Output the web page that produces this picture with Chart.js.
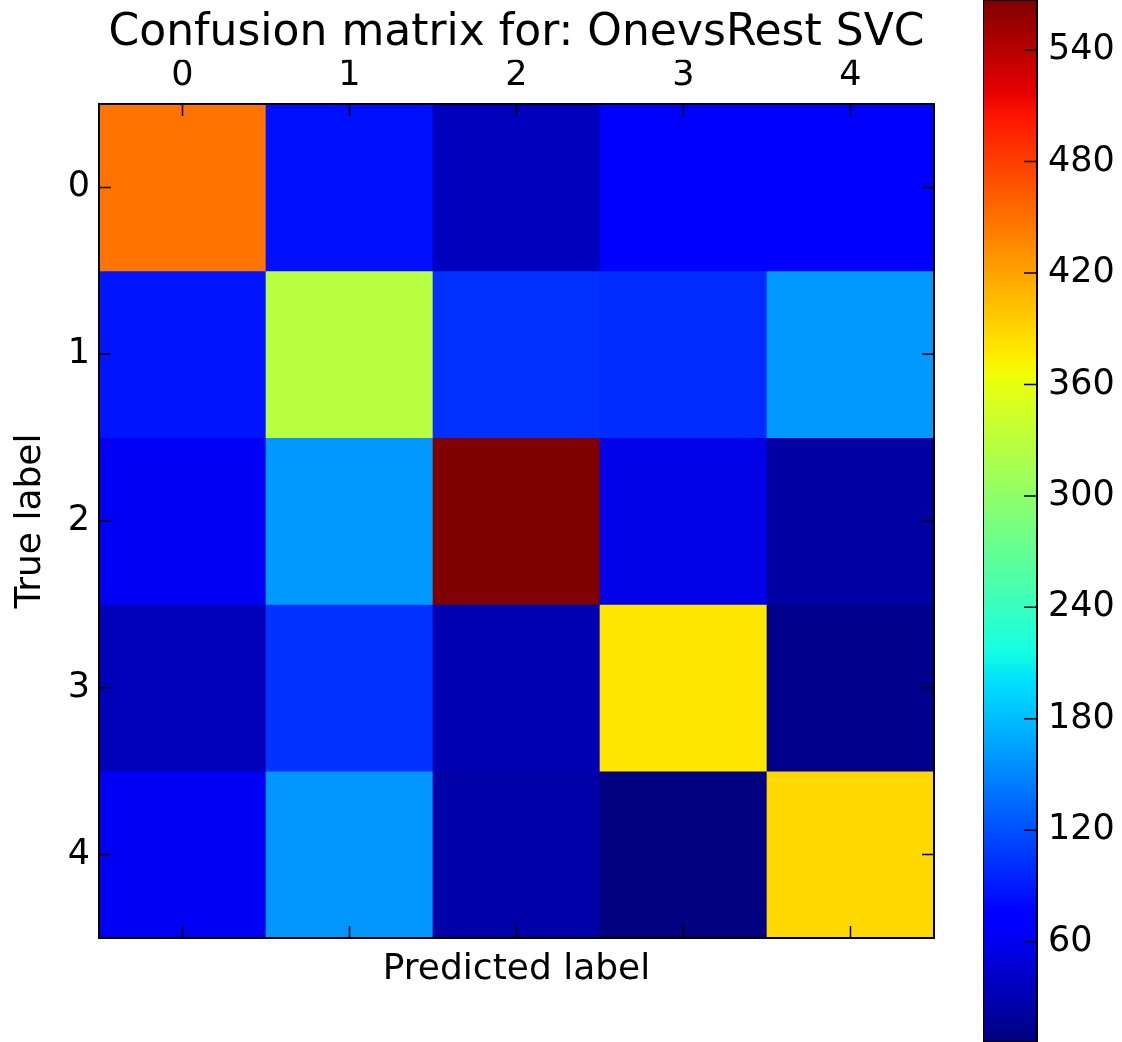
<!DOCTYPE html>
<html>
<head>
<meta charset="utf-8">
<title>Confusion matrix for: OnevsRest SVC</title>
<script src="https://cdn.jsdelivr.net/npm/chart.js@4"></script>
<style>
  html, body { margin: 0; padding: 0; background: #fff; }
  body { width: 1122px; height: 1042px; position: relative; overflow: hidden; }
  #matrixBox { position: absolute; left: 0; top: 0; width: 960px; height: 1042px; }
  #barBox { position: absolute; left: 983px; top: 0; width: 139px; height: 1042px; }
</style>
</head>
<body>
<div id="matrixBox"><canvas id="matrixChart"></canvas></div>
<div id="barBox"><canvas id="colorbarChart"></canvas></div>
<script>
/* =====================================================
   Data
===================================================== */
const classLabels = ['0', '1', '2', '3', '4'];

// rows = true label, columns = predicted label
const trueRow0 = [448, 85, 36, 74, 72];
const trueRow1 = [87, 328, 103, 100, 160];
const trueRow2 = [63, 160, 567, 57, 23];
const trueRow3 = [35, 103, 31, 380, 12];
const trueRow4 = [63, 158, 26, 6, 388];
const matrixRows = [trueRow0, trueRow1, trueRow2, trueRow3, trueRow4];

const colorbarTicks = [60, 120, 180, 240, 300, 360, 420, 480, 540];

/* =====================================================
   Jet colormap (matplotlib segment data)
===================================================== */
const jetRed   = [[0, 0], [0.35, 0], [0.66, 1], [0.89, 1], [1, 0.5]];
const jetGreen = [[0, 0], [0.125, 0], [0.375, 1], [0.64, 1], [0.91, 0], [1, 0]];
const jetBlue  = [[0, 0.5], [0.11, 1], [0.34, 1], [0.65, 0], [1, 0]];

function channel(seg, t) {
  for (let i = 1; i < seg.length; i++) {
    if (t <= seg[i][0]) {
      const [x0, y0] = seg[i - 1];
      const [x1, y1] = seg[i];
      return y0 + (y1 - y0) * (t - x0) / (x1 - x0);
    }
  }
  return seg[seg.length - 1][1];
}

function jet(t) {
  t = Math.min(1, Math.max(0, t));
  const r = Math.round(255 * channel(jetRed, t));
  const g = Math.round(255 * channel(jetGreen, t));
  const b = Math.round(255 * channel(jetBlue, t));
  return `rgb(${r},${g},${b})`;
}

const allValues = matrixRows.flat();
const vmin = Math.min(...allValues);
const vmax = Math.max(...allValues);
const colorOf = v => jet((v - vmin) / (vmax - vmin));

function jetGradient(chart) {
  const a = chart.chartArea;
  if (!a) return 'rgba(0,0,0,0)';
  const g = chart.ctx.createLinearGradient(0, a.bottom, 0, a.top);
  const knots = [...new Set([...jetRed, ...jetGreen, ...jetBlue].map(k => k[0]))].sort((p, q) => p - q);
  knots.forEach(t => g.addColorStop(t, jet(t)));
  return g;
}

/* =====================================================
   Frame + inward tick marks (matplotlib look)
===================================================== */
const frameAndTicks = {
  id: 'frameAndTicks',
  afterDatasetsDraw(chart, args, opts) {
    const { ctx, chartArea: a } = chart;
    const len = opts.length;
    ctx.save();
    ctx.strokeStyle = '#000';
    ctx.lineWidth = 1.5;
    ctx.beginPath();
    if (opts.xTicks) {
      chart.scales.x.ticks.forEach((t, i) => {
        const px = chart.scales.x.getPixelForTick(i);
        ctx.moveTo(px, a.top); ctx.lineTo(px, a.top + len);
        ctx.moveTo(px, a.bottom); ctx.lineTo(px, a.bottom - len);
      });
    }
    chart.scales.y.ticks.forEach(t => {
      const py = chart.scales.y.getPixelForValue(t.value);
      if (opts.leftTicks) { ctx.moveTo(a.left, py); ctx.lineTo(a.left + len, py); }
      if (opts.rightTicks) { ctx.moveTo(a.right, py); ctx.lineTo(a.right - len, py); }
    });
    ctx.stroke();
    ctx.lineWidth = 2;
    ctx.strokeRect(a.left, a.top, a.right - a.left, a.bottom - a.top);
    ctx.restore();
  }
};

const FONT = 'DejaVu Sans';
const tickFont = { family: FONT, size: 35 };
const labelFont = { family: FONT, size: 36 };

/* =====================================================
   Confusion matrix (stacked unit bars, one dataset per row)
===================================================== */
new Chart(document.getElementById('matrixChart'), {
  type: 'bar',
  data: {
    labels: classLabels,
    datasets: matrixRows.map((row, r) => ({
      label: 'True ' + classLabels[r],
      data: row.map(() => 1),
      backgroundColor: row.map(colorOf),
      borderWidth: 0,
      barPercentage: 1,
      categoryPercentage: 1
    }))
  },
  options: {
    animation: false,
    responsive: true,
    maintainAspectRatio: false,
    layout: { padding: { left: 0, top: 0, right: 26, bottom: 0 } },
    plugins: {
      legend: { display: false },
      tooltip: { enabled: false },
      title: {
        display: true,
        fullSize: false,
        text: 'Confusion matrix for: OnevsRest SVC',
        color: '#000',
        font: { family: FONT, size: 44, weight: 'normal', lineHeight: 1.2 },
        padding: { top: 7, bottom: 0 }
      },
      frameAndTicks: { xTicks: true, leftTicks: true, rightTicks: true, length: 12 }
    },
    scales: {
      x: {
        type: 'category',
        position: 'top',
        stacked: true,
        offset: true,
        grid: { display: false, drawTicks: false },
        border: { display: false },
        ticks: { color: '#000', font: tickFont, padding: 7, maxRotation: 0 },
        afterFit: s => { s.height = 104 - 59.8; }
      },
      x2: {
        type: 'category',
        labels: classLabels,
        position: 'bottom',
        offset: true,
        grid: { display: false, drawTicks: false },
        border: { display: false },
        ticks: { display: false },
        title: {
          display: true, text: 'Predicted label', color: '#000',
          font: labelFont, padding: { top: 0, bottom: 51 }
        },
        afterFit: s => { s.height = 104; }
      },
      y: {
        type: 'linear',
        stacked: true,
        reverse: true,
        min: 0,
        max: classLabels.length,
        afterBuildTicks: s => { s.ticks = classLabels.map((_, i) => ({ value: i + 0.5 })); },
        grid: { display: false, drawTicks: false },
        border: { display: false },
        ticks: { color: '#000', font: tickFont, padding: 9, callback: (v, i) => classLabels[i] },
        title: {
          display: true, text: 'True label', color: '#000',
          font: labelFont, padding: { top: 9, bottom: 0 }
        },
        afterFit: s => { s.width = 99; }
      }
    }
  },
  plugins: [frameAndTicks]
});

/* =====================================================
   Colorbar
===================================================== */
new Chart(document.getElementById('colorbarChart'), {
  type: 'bar',
  data: {
    labels: ['colorbar'],
    datasets: [{
      data: [[vmin, vmax]],
      backgroundColor: c => jetGradient(c.chart),
      borderWidth: 0,
      barPercentage: 1,
      categoryPercentage: 1
    }]
  },
  options: {
    animation: false,
    responsive: true,
    maintainAspectRatio: false,
    layout: { padding: 0 },
    plugins: {
      legend: { display: false },
      tooltip: { enabled: false },
      frameAndTicks: { xTicks: false, leftTicks: false, rightTicks: true, length: 13 }
    },
    scales: {
      x: { display: false },
      y: {
        position: 'right',
        min: vmin,
        max: vmax,
        afterBuildTicks: s => { s.ticks = colorbarTicks.map(v => ({ value: v })); },
        grid: { display: false, drawTicks: false },
        border: { display: false },
        ticks: { color: '#000', font: tickFont, padding: 11 },
        afterFit: s => { s.width = 85; s.paddingTop = 0; s.paddingBottom = 0; }
      }
    }
  },
  plugins: [frameAndTicks]
});
</script>
</body>
</html>
